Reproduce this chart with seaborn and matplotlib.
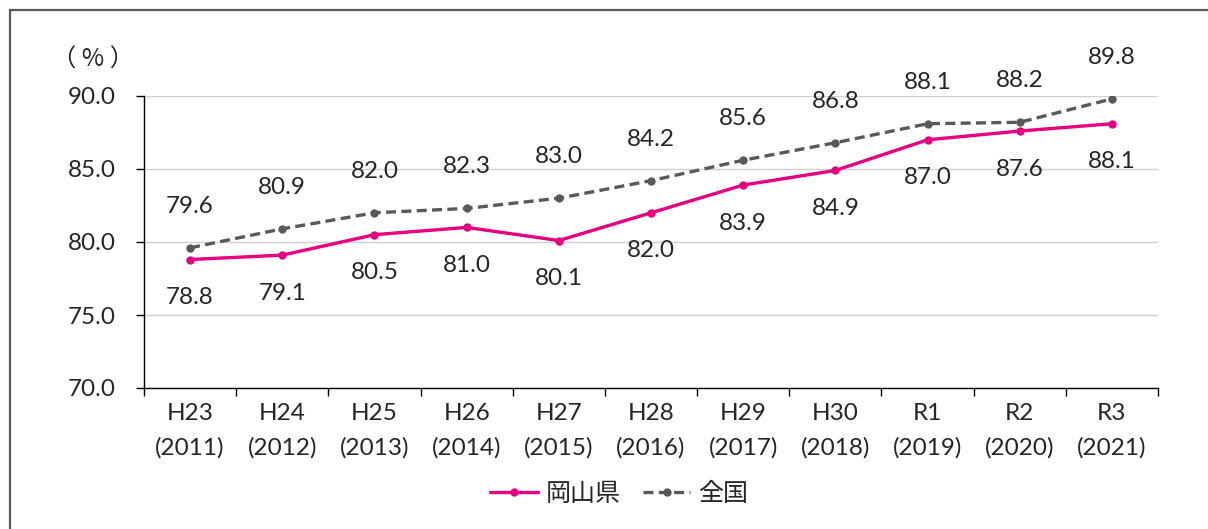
import matplotlib
matplotlib.use("Agg")
import matplotlib.pyplot as plt
import seaborn as sns
import pandas as pd
from matplotlib.patches import Rectangle

categories = ["H23\n(2011)", "H24\n(2012)", "H25\n(2013)", "H26\n(2014)", "H27\n(2015)",
              "H28\n(2016)", "H29\n(2017)", "H30\n(2018)", "R1\n(2019)", "R2\n(2020)", "R3\n(2021)"]
okayama = [78.8, 79.1, 80.5, 81.0, 80.1, 82.0, 83.9, 84.9, 87.0, 87.6, 88.1]
national = [79.6, 80.9, 82.0, 82.3, 83.0, 84.2, 85.6, 86.8, 88.1, 88.2, 89.8]
series_names = ["岡山県", "全国"]
y_ticks = [70.0, 75.0, 80.0, 85.0, 90.0]

sns.set_theme(style="white")
plt.rcParams["font.family"] = ["Lato", "Noto Sans CJK JP", "DejaVu Sans"]

PINK = "#E6007E"
GRAY = "#595959"
TEXT = "#262626"
FS = 17.5

df = pd.DataFrame({
    "x": list(range(len(categories))) * 2,
    "value": okayama + national,
    "series": [series_names[0]] * len(okayama) + [series_names[1]] * len(national),
})

fig = plt.figure(figsize=(12.08, 5.29), dpi=100)
ax = fig.add_axes([144 / 1208, 1 - 388 / 529, (1158 - 144) / 1208, (388 - 96) / 529])

sns.lineplot(data=df, x="x", y="value", hue="series", style="series",
             palette={series_names[0]: PINK, series_names[1]: GRAY},
             dashes={series_names[0]: "", series_names[1]: (3, 1.6)},
             markers={series_names[0]: "o", series_names[1]: "o"},
             markersize=6, markeredgewidth=0, linewidth=2.4, ax=ax, legend=False)

ax.set_xlim(-0.5, len(categories) - 0.5)
ax.set_ylim(70, 90)
ax.set_yticks(y_ticks)
ax.set_yticklabels([f"{v:.1f}" for v in y_ticks], fontsize=FS, color=TEXT)
ax.set_xticks(range(len(categories)))
ax.set_xticklabels(categories, fontsize=FS, color=TEXT, linespacing=1.75)
ax.set_xticks([i - 0.5 for i in range(len(categories) + 1)], minor=True)
ax.tick_params(axis="x", which="major", length=0, pad=11)
ax.tick_params(axis="x", which="minor", bottom=True, length=6, width=1, color="black", direction="out")
ax.tick_params(axis="y", which="major", left=True, length=6, width=1, color="black", direction="out", pad=14)
ax.set_xlabel("")
ax.set_ylabel("")

ax.yaxis.grid(True, color="#D0D0D0", linewidth=1)
ax.set_axisbelow(True)
for side in ["top", "right"]:
    ax.spines[side].set_visible(False)
for side in ["left", "bottom"]:
    ax.spines[side].set_color("black")
    ax.spines[side].set_linewidth(1)

for i, (o, n) in enumerate(zip(okayama, national)):
    ax.annotate(f"{o:.1f}", (i, o), xytext=(0, -27.5), textcoords="offset points",
                ha="center", va="center", fontsize=FS, color=TEXT)
    ax.annotate(f"{n:.1f}", (i, n), xytext=(0, 30), textcoords="offset points",
                ha="center", va="center", fontsize=FS, color=TEXT)

fig.text(93 / 1208, 1 - 60 / 529, "（ % ）", fontsize=FS, color=TEXT, ha="center", va="center",
         family=["Noto Sans CJK JP", "DejaVu Sans"])

handles = [
    plt.Line2D([], [], color=PINK, lw=2.4, marker="o", markersize=6, markeredgewidth=0),
    plt.Line2D([], [], color=GRAY, lw=2.4, ls=(0, (3, 1.6)), marker="o", markersize=6, markeredgewidth=0),
]
fig.legend(handles, series_names, loc="center", bbox_to_anchor=(619 / 1208, 1 - 494 / 529), ncol=2,
           frameon=False, handlelength=1.9, columnspacing=0.9, handletextpad=0.3,
           prop={"family": ["Noto Sans CJK JP"], "size": 18}, labelcolor=TEXT)

fig.patches.append(Rectangle((9.5 / 1208, -0.1), 1.2, 1.1 - 9.5 / 529, transform=fig.transFigure,
                             fill=False, edgecolor="#595959", linewidth=1.6, zorder=10))

fig.savefig("out.png", dpi=100)
